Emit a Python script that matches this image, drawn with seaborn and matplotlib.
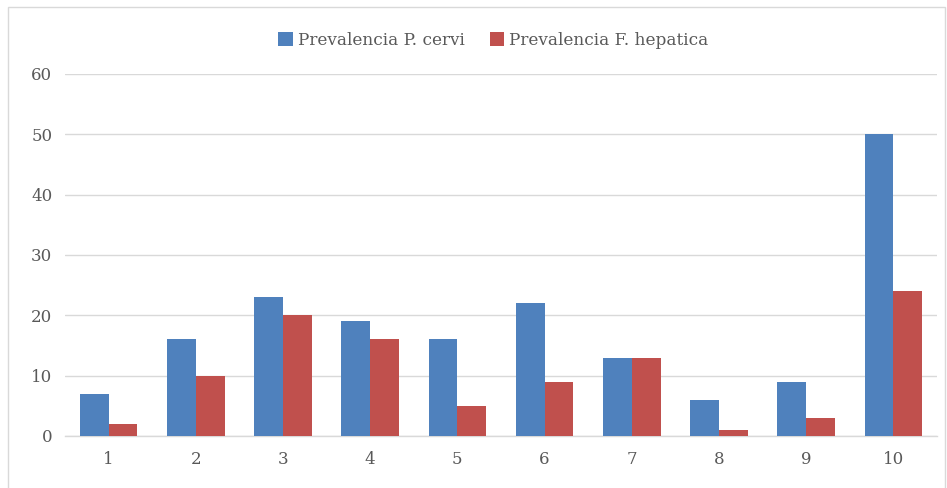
import matplotlib
matplotlib.use("Agg")
import matplotlib.pyplot as plt
import seaborn as sns
import pandas as pd
from matplotlib.patches import Rectangle

categories = ["1", "2", "3", "4", "5", "6", "7", "8", "9", "10"]
p_cervi = [7, 16, 23, 19, 16, 22, 13, 6, 9, 50]
f_hepatica = [2, 10, 20, 16, 5, 9, 13, 1, 3, 24]
series_names = ["Prevalencia P. cervi", "Prevalencia F. hepatica"]
y_ticks = [0, 10, 20, 30, 40, 50, 60]

df = pd.DataFrame({
    "cat": categories * 2,
    "value": p_cervi + f_hepatica,
    "serie": [series_names[0]] * len(categories) + [series_names[1]] * len(categories),
})

sns.set_style("white")
plt.rcParams["font.family"] = ["DejaVu Serif"]

fig = plt.figure(figsize=(9.47, 4.88), dpi=100)
ax = fig.add_axes([0.0686, 0.1066, 0.9208, 0.7418])

sns.barplot(data=df, x="cat", y="value", hue="serie", order=categories,
            hue_order=series_names, palette=["#4F81BD", "#C0504D"],
            width=0.66, gap=0, saturation=1, errorbar=None, ax=ax,
            edgecolor="none", zorder=3)

ax.set_xlim(-0.5, 9.5)
ax.set_ylim(0, 60)
ax.set_yticks(y_ticks)
ax.yaxis.grid(True, color="#D9D9D9", linewidth=1.0, zorder=0)
ax.set_axisbelow(True)
for s in ["top", "right", "left"]:
    ax.spines[s].set_visible(False)
ax.spines["bottom"].set_color("#D9D9D9")
ax.spines["bottom"].set_linewidth(1.0)
ax.tick_params(axis="both", length=0, labelsize=12, labelcolor="#595959")
ax.tick_params(axis="y", pad=9)
ax.tick_params(axis="x", pad=11)
ax.set_xlabel("")
ax.set_ylabel("")

handles, labels = ax.get_legend_handles_labels()
ax.legend(handles, labels, loc="center", bbox_to_anchor=(0.521, 0.918),
          bbox_transform=fig.transFigure, ncol=2, frameon=False,
          fontsize=12.2, labelcolor="#595959", handlelength=0.85,
          handleheight=0.9, handletextpad=0.3, columnspacing=1.5)

fig.patches.append(Rectangle((0.008, -0.01), 0.99, 0.996, transform=fig.transFigure,
                             fill=False, edgecolor="#D9D9D9", linewidth=1.0))

fig.savefig("out.png", dpi=100, facecolor="white")
